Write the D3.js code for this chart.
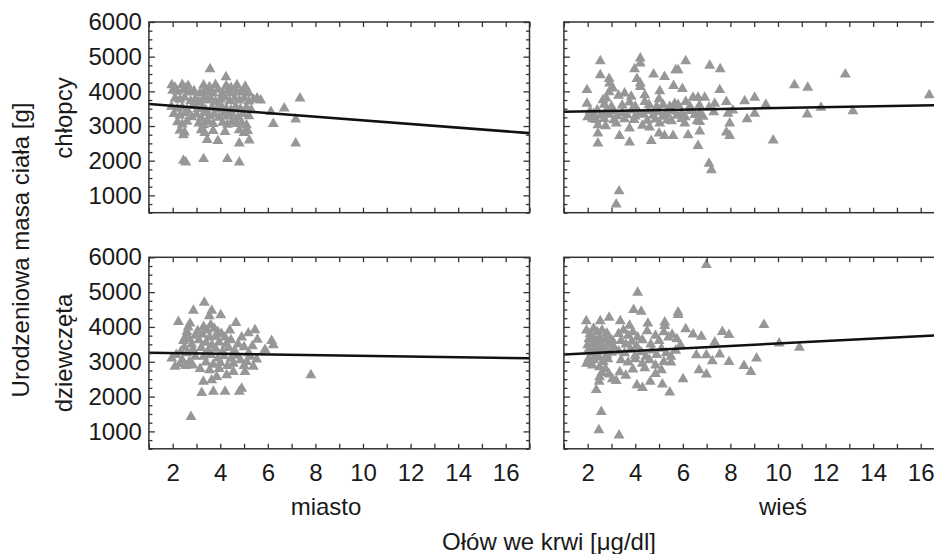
<!DOCTYPE html>
<html><head><meta charset="utf-8">
<script src="https://cdn.jsdelivr.net/npm/d3@7"></script>
<style>
html,body{margin:0;padding:0;background:#fff;}
svg{display:block;}
text{font-family:"Liberation Sans",Arial,Helvetica,sans-serif;fill:#1a1a1a;}
</style></head>
<body>
<svg id="c" width="934" height="554"></svg>
<script>
// ---- data (x = lead in blood [µg/dl], y = birth weight [g]) ----
const boysCity = [
[3.57,4640],[4.24,4410],
[1.96,4180],[2.4,4190],[2.65,4160],[3.3,4170],[3.8,4190],[4.25,4160],[4.7,4180],[5.05,4140],[2.1,4110],[2.55,4090],[3.55,4120],[4.45,4100],
[2.0,4020],[2.2,3990],[2.45,4040],[2.7,3970],[2.9,4010],[3.15,3950],[3.35,4030],[3.5,3980],[3.7,3940],[3.9,4050],[4.1,3960],[4.3,4000],[4.5,3950],[4.65,4030],[4.85,3970],[5.0,3990],[5.2,3940],
[2.1,3800],[2.3,3760],[2.5,3820],[2.75,3720],[2.95,3780],[3.1,3700],[3.3,3810],[3.45,3740],[3.6,3790],[3.8,3700],[4.0,3770],[4.2,3830],[4.4,3720],[4.6,3790],[4.8,3740],[5.0,3800],[5.2,3710],[5.4,3760],[5.55,3800],[5.7,3740],
[1.95,3560],[2.2,3500],[2.4,3540],[2.6,3470],[2.85,3580],[3.05,3490],[3.25,3550],[3.4,3460],[3.65,3530],[3.85,3480],[4.05,3570],[4.25,3500],[4.45,3460],[4.65,3550],[4.85,3490],[5.1,3530],[5.3,3470],
[2.05,3350],[2.3,3300],[2.55,3370],[2.8,3260],[3.0,3330],[3.2,3230],[3.35,3380],[3.55,3290],[3.75,3340],[3.95,3240],[4.15,3360],[4.3,3280],[4.5,3330],[4.75,3250],[4.95,3350],[5.2,3290],
[2.2,3110],[2.4,3050],[2.6,3130],[3.1,3080],[3.3,3030],[3.5,3120],[3.7,3060],[4.1,3100],[4.3,3040],[4.5,3120],[4.7,3060],[4.9,3090],[5.1,3030],
[2.3,2870],[2.5,2820],[3.2,2880],[3.35,2800],[3.7,2860],[4.2,2830],[4.8,2880],[5.0,2800],[5.15,2860],
[2.45,2740],[3.45,2600],[3.9,2570],[4.8,2500],[5.22,2590],
[2.45,2000],[2.55,1950],[3.3,2050],[4.3,2050],[4.8,1950],
[7.35,3800],[6.69,3510],[6.13,3410],[6.23,3060],[7.17,3190],[7.17,2500]
];
const boysVillage = [
[2.53,4870],[4.21,4950],[4.21,4810],[6.12,4870],[7.13,4740],[7.57,4640],[3.97,4640],
[2.53,4470],[4.77,4490],[5.23,4420],[5.7,4610],[5.8,4610],
[2.9,4360],[2.92,4230],[3.06,4090],[4.07,4360],[4.21,4230],[4.21,4130],[5.61,4160],
[1.97,4040],[3.55,3940],[5.03,4010],[5.98,4070],[7.55,4040],
[3.83,3850],[4.4,3890],[5.0,3780],[6.43,3820],[6.64,3820],[6.92,3820],[8.6,3720],[9.02,3820],
[1.97,3650],[2.64,3750],[2.78,3800],[3.76,3680],[4.4,3700],[4.58,3610],[5.17,3610],[5.66,3650],[5.8,3610],[6.12,3700],[7.34,3650],[7.83,3700],
[2.9,3980],[3.3,3880],[2.7,3620],[3.0,3560],[3.45,3600],[4.0,3560],[4.9,3560],[5.45,3560],[6.3,3560],[6.7,3600],[7.1,3540],
[2.1,3420],[2.25,3350],[2.4,3450],[2.55,3300],[2.75,3400],[2.9,3330],[3.05,3440],[3.25,3290],[3.45,3380],[3.65,3320],[3.85,3450],[4.0,3280],[4.15,3390],[4.35,3330],[4.55,3440],[4.75,3300],[4.95,3400],[5.15,3270],[5.3,3350],[5.55,3420],[5.75,3300],[5.95,3380],[6.1,3260],[6.3,3440],[6.5,3320],[6.7,3380],[6.85,3270],[7.3,3400],[7.9,3360],[8.1,3450],
[2.0,3260],[2.2,3200],[2.35,3180],[2.7,3210],[3.1,3170],[3.55,3200],[3.95,3180],[4.5,3160],[4.85,3190],[5.35,3170],[5.95,3210],[6.6,3150],
[2.43,3030],[3.2,3080],[3.76,2930],[5.03,3080],[5.52,3140],[6.08,3080],[6.71,3120],[7.97,3080],[9.02,3360],[8.7,3200],[2.75,3000],[4.3,3010],[4.6,2960],
[2.43,2790],[3.34,2720],[5.0,2790],[5.23,2720],[5.59,2720],[6.22,2740],[6.71,2850],[7.83,2820],[7.97,2720],
[2.43,2500],[3.76,2530],[4.67,2570],[6.64,2430],
[7.1,1920],[7.2,1730],[3.32,1120],[3.2,740],
[9.49,3620],[9.8,2590],[10.69,4180],[11.25,4110],[11.81,3530],[11.23,3340],[12.83,4490],[13.15,3430],[16.36,3890]
];
const girlsCity = [
[3.33,4700],[2.87,4470],[3.64,4470],[4.02,4340],[3.54,4310],[2.24,4150],[4.66,4120],
[2.73,4100],[2.65,3990],[2.6,3860],[2.55,3720],[5.46,3910],[5.18,3820],[5.56,3640],[6.16,3600],[6.23,3480],[5.88,3340],
[7.81,2620],[2.77,1420],
[3.22,2110],[3.71,2140],[4.2,2140],[4.8,2140],[4.9,2230],[3.29,2430],[3.64,2470],[3.85,2570],[4.27,2620],[4.55,2710],[5.04,2710],[5.11,3000],[5.53,3070],[5.39,2860],
[1.96,3100],[2.1,2860],
[2.45,3600],[2.7,3650],[2.8,3500],[2.5,3420],[2.35,3300],[2.15,3200],[2.6,3250],[2.85,3350],[2.95,3150],[2.4,3050],[2.7,3000],[2.3,2930],[2.55,2880],[2.85,2900],
[3.3,4000],[3.45,3900],[3.6,4050],[3.75,3950],[3.9,3850],[3.25,3780],[3.55,3700],[3.8,3720],[4.05,3800],[4.2,3700],[3.4,3550],[3.65,3480],[3.95,3560],[4.25,3500],[4.45,3620],[3.2,3400],[3.5,3330],[3.8,3380],[4.1,3300],[4.35,3400],[4.6,3320],[3.3,3150],[3.6,3200],[3.9,3100],[4.15,3160],[4.45,3090],[4.7,3180],[3.4,2980],[3.7,2920],[4.0,2970],[4.3,2880],[4.55,2950],[3.15,2800],[3.55,2760],[3.95,2800],
[4.4,3900],[4.75,3500],[4.9,3700],[5.0,3420],[5.2,3250],[5.35,3450],[4.85,3050],[5.0,2880],[5.25,3150],
[3.1,3620],[3.05,3880],[2.95,3750]
];
const girlsVillage = [
[6.99,5780],[4.1,4990],[3.93,4490],[4.25,4440],[5.8,4420],[5.8,4350],
[1.94,4170],[2.53,4170],[2.9,4270],[3.37,4170],[3.76,4040],[4.53,4100],[5.24,4130],[5.24,4030],
[9.41,4060],[10.05,3530],[10.9,3410],[9.1,3100],[8.86,2710],[8.57,2880],
[7.66,3860],[7.94,3770],[6.12,3940],[6.43,3790],[6.78,3720],[7.34,3560],
[7.55,3210],[7.94,3000],[7.24,3020],[6.99,3190],[6.57,3190],[6.68,2760],[6.99,2640],[6.01,2500],
[5.45,2120],[5.14,2350],[4.63,2430],[4.3,2250],[4.07,2330],[3.2,2450],[3.04,2500],[2.36,2190],[2.48,2430],[2.57,1560],[2.47,1040],[3.32,890],
[1.95,3900],[2.1,3800],[2.25,3950],[2.4,3850],[2.6,3900],[2.8,3820],[2.05,3650],[2.2,3700],[2.35,3600],[2.5,3680],[2.7,3620],[2.9,3700],[3.05,3600],[2.0,3480],[2.15,3420],[2.3,3500],[2.45,3380],[2.6,3460],[2.75,3400],[2.9,3500],[3.1,3420],[2.0,3300],[2.2,3250],[2.4,3220],[2.6,3300],[2.8,3200],[3.0,3260],[2.05,3100],[2.25,3050],[2.45,3120],[2.65,3000],[2.85,3080],[1.95,2950],[2.2,2900],[2.5,2850],[2.75,2800],[2.6,2680],[2.9,2640],[2.5,2560],
[3.3,3800],[3.5,3900],[3.7,3750],[3.9,3850],[4.1,3700],[3.4,3600],[3.6,3500],[3.85,3580],[4.05,3450],[4.3,3620],[4.5,3880],[4.65,3500],[4.85,3750],[5.0,3600],[5.2,3850],[5.4,3700],[5.55,3780],[5.75,3650],[5.9,3480],[3.3,3300],[3.55,3250],[3.8,3350],[4.0,3180],[4.25,3280],[4.45,3150],[4.7,3330],[4.9,3200],[5.1,3380],[5.3,3250],[5.5,3150],[5.7,3320],[3.4,3050],[3.7,2980],[4.0,3080],[4.3,2950],[4.6,3050],[4.85,2900],[5.2,3000],[5.5,2980],[3.35,2700],[3.9,2780],[4.4,2820],[4.85,2650],[3.6,2600],[5.1,2760]
];
// regression lines (end points)
const boysCityFit = [[1,3635],[17,2795]];
const boysVillageFit = [[1,3410],[17,3605]];
const girlsCityFit = [[1,3260],[17,3100]];
const girlsVillageFit = [[1,3210],[17,3770]];

const xDomain = [1, 17];
const yDomain = [500, 6000];
const xTickLabels = [2,4,6,8,10,12,14,16];
const yTickLabels = [1000,2000,3000,4000,5000,6000];
const rowLabels = ["chłopcy","dziewczęta"];
const colLabels = ["miasto","wieś"];
const yTitle = "Urodzeniowa masa ciała [g]";
const xTitle = "Ołów we krwi [μg/dl]";

// ---- layout ----
const svg = d3.select("#c");
const colX = [[148.9,529.5],[563.9,944.5]];
const rowY = [[22,212.7],[257.3,448.8]];
const panels = [
  {r:0,c:0,data:boysCity,fit:boysCityFit},
  {r:0,c:1,data:boysVillage,fit:boysVillageFit},
  {r:1,c:0,data:girlsCity,fit:girlsCityFit},
  {r:1,c:1,data:girlsVillage,fit:girlsVillageFit}
];
const FS = 24;
const FF = '"Liberation Sans",Arial,sans-serif';
const tri = d3.symbol().type(d3.symbolTriangle).size(52);

panels.forEach(p=>{
  const x = d3.scaleLinear().domain(xDomain).range(colX[p.c]);
  const y = d3.scaleLinear().domain(yDomain).range([rowY[p.r][1], rowY[p.r][0]]);
  const g = svg.append("g");
  const [x0,x1] = x.range(); const [y1,y0] = y.range();

  // points
  g.append("g").selectAll("path").data(p.data).join("path")
    .attr("d", tri).attr("fill","#979797")
    .attr("transform", d=>`translate(${x(d[0])},${y(d[1])})`);

  // regression line
  g.append("line")
    .attr("x1", x(p.fit[0][0])).attr("y1", y(p.fit[0][1]))
    .attr("x2", x(p.fit[1][0])).attr("y2", y(p.fit[1][1]))
    .attr("stroke","#111").attr("stroke-width",2.6);

  // inward ticks
  const minorY = d3.range(500,6001,250).filter(v=>v%1000!==0);
  const majorY = d3.range(1000,6001,1000);
  const xt = d3.range(1,18,1);
  const axStyle = sel=>{ sel.selectAll("text").remove(); sel.select(".domain").remove();
    sel.selectAll("line").attr("stroke","#333").attr("stroke-width",1.3); };
  g.append("g").attr("transform",`translate(${x0},0)`).call(d3.axisLeft(y).tickValues(majorY).tickSize(-6)).call(axStyle);
  g.append("g").attr("transform",`translate(${x0},0)`).call(d3.axisLeft(y).tickValues(minorY).tickSize(-3.5)).call(axStyle);
  g.append("g").attr("transform",`translate(${x1},0)`).call(d3.axisRight(y).tickValues(majorY).tickSize(-6)).call(axStyle);
  g.append("g").attr("transform",`translate(${x1},0)`).call(d3.axisRight(y).tickValues(minorY).tickSize(-3.5)).call(axStyle);
  g.append("g").attr("transform",`translate(0,${y1})`).call(d3.axisBottom(x).tickValues(xt).tickSize(-5)).call(axStyle);
  g.append("g").attr("transform",`translate(0,${y0})`).call(d3.axisTop(x).tickValues(xt).tickSize(-5)).call(axStyle);

  // frame
  g.append("rect").attr("x",x0).attr("y",y0).attr("width",x1-x0).attr("height",y1-y0)
    .attr("fill","none").attr("stroke","#333").attr("stroke-width",1.5);

  // tick labels
  if(p.c===0){
    const ya = g.append("g").attr("transform",`translate(${x0},0)`)
      .call(d3.axisLeft(y).tickValues(yTickLabels).tickSize(0).tickPadding(7).tickFormat(d3.format("d")));
    ya.select(".domain").remove();
    ya.selectAll("text").attr("font-size",FS).style("font-family",FF).attr("fill","#1a1a1a");
  }
  if(p.r===1){
    const xa = g.append("g").attr("transform",`translate(0,${y1})`)
      .call(d3.axisBottom(x).tickValues(xTickLabels).tickSize(0).tickPadding(15).tickFormat(d3.format("d")));
    xa.select(".domain").remove();
    xa.selectAll("text").attr("font-size",FS).style("font-family",FF).attr("fill","#1a1a1a");
  }
});

// row / column labels and titles
svg.append("text").attr("transform","translate(64,118) rotate(-90)").attr("text-anchor","middle")
  .attr("dy","0.35em").attr("font-size",FS).text(rowLabels[0]);
svg.append("text").attr("transform","translate(64,353) rotate(-90)").attr("text-anchor","middle")
  .attr("dy","0.35em").attr("font-size",FS).text(rowLabels[1]);
svg.append("text").attr("transform","translate(21,250) rotate(-90)").attr("text-anchor","middle")
  .attr("dy","0.35em").attr("font-size",FS).text(yTitle);
svg.append("text").attr("x",326).attr("y",515).attr("text-anchor","middle").attr("font-size",FS).text(colLabels[0]);
svg.append("text").attr("x",783).attr("y",515).attr("text-anchor","middle").attr("font-size",FS).text(colLabels[1]);
svg.append("text").attr("x",549).attr("y",550).attr("text-anchor","middle").attr("font-size",FS).text(xTitle);
</script>
</body></html>
